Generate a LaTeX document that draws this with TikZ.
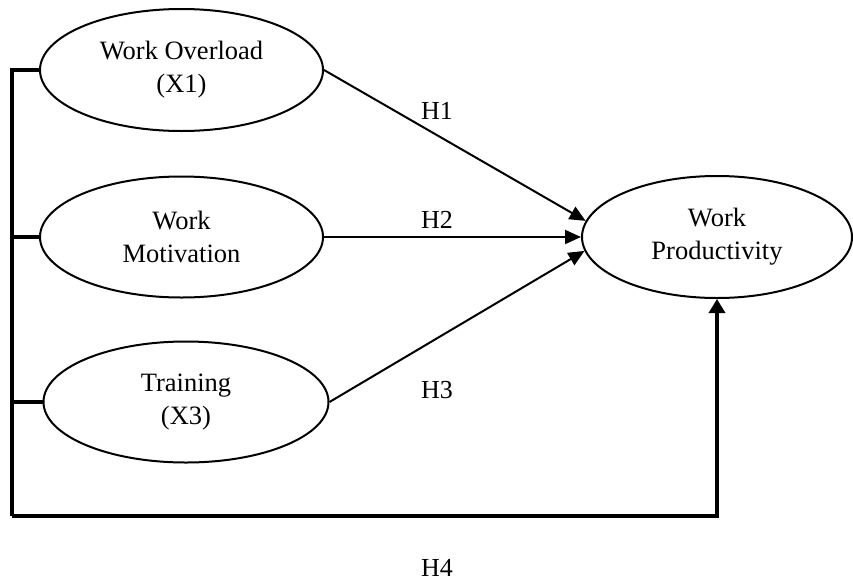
\documentclass[tikz,border=0pt]{standalone}
\usepackage{fontspec}
\setmainfont{Liberation Serif}
\usetikzlibrary{shapes.geometric,arrows.meta,calc}
\begin{document}
\begin{tikzpicture}[x=1pt,y=-1pt,
  latent/.style={draw,ellipse,line width=2pt,inner sep=0pt,align=center,
    font=\fontsize{26.5pt}{33pt}\selectfont},
  path/.style={line width=2pt,-{Triangle[length=16pt,width=14pt]}},
  bus/.style={line width=4pt},
  hlab/.style={font=\fontsize{26pt}{33pt}\selectfont,inner sep=0pt}]
\useasboundingbox (0,0) rectangle (853,581);
\node[latent,minimum width=283pt,minimum height=122pt] (E1) at (181.5,70) {Work Overload\\(X1)};
\node[latent,minimum width=283pt,minimum height=121pt] (E2) at (181.5,237) {Work\\Motivation};
\node[latent,minimum width=285pt,minimum height=121pt] (E3) at (186,402) {Training\\(X3)};
\node[latent,minimum width=270pt,minimum height=122pt] (P) at (717,237) {Work\\Productivity};
\coordinate (BL) at (12,516);
\draw[path] (E1.east) -- (P.173.5);
\draw[path] (E2.east) -- (P.west);
\draw[path] (E3.east) -- (P.186.5);
\draw[bus] (E1.west) -| (BL);
\draw[bus] (E2.west) -- (E2.west -| BL);
\draw[bus] (E3.west) -- (E3.west -| BL);
\draw[bus,-{Triangle[length=14pt,width=16pt]}] (BL) -| (P.south);
\node[hlab] (H1) at (437,111) {H1};
\node[hlab] (H2) at (437,220) {H2};
\node[hlab] (H3) at (437,390) {H3};
\node[hlab] (H4) at (437,568) {H4};
\end{tikzpicture}
\end{document}
